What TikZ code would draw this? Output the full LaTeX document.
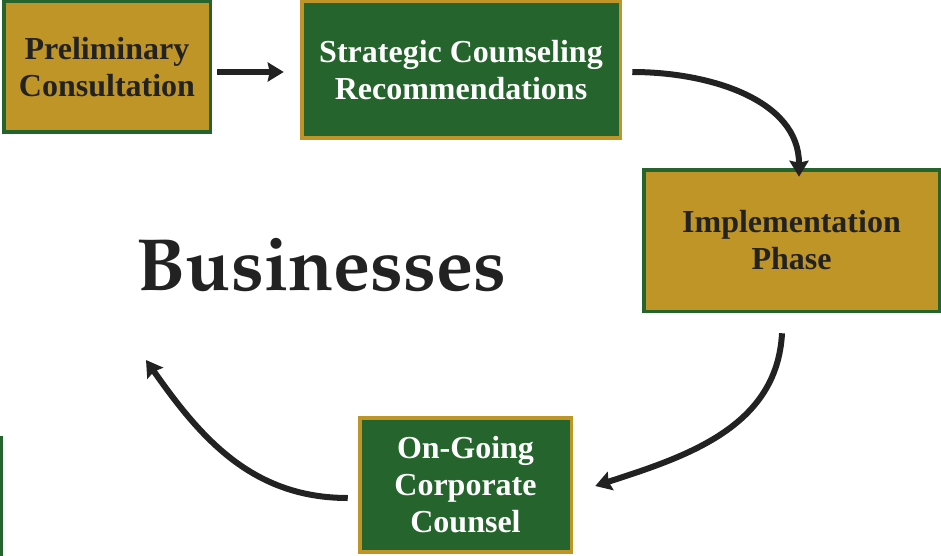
\documentclass[tikz,border=0pt]{standalone}
\usepackage[T1]{fontenc}
\usepackage{fontspec}
\newfontfamily\boxfont{Liberation Serif}
\usetikzlibrary{arrows.meta}
\definecolor{gold}{RGB}{190,149,38}
\definecolor{dgreen}{RGB}{38,100,45}
\definecolor{ink}{RGB}{34,34,34}
\tikzset{
  box/.style={rectangle, line width=3.5pt, inner sep=0pt, outer sep=0pt, align=center,
    font=\boxfont\bfseries\fontsize{32}{37}\selectfont},
  goldbox/.style={box, draw=dgreen, fill=gold, text=ink},
  greenbox/.style={box, draw=gold, fill=dgreen, text=white},
  conn/.style={draw=ink, line width=6pt, -{Stealth[length=16pt,width=19pt,inset=2pt]}}
}
\begin{document}
\begin{tikzpicture}[x=1pt,y=-1pt]
\useasboundingbox (0,0) rectangle (941,556);
\begin{scope}
\clip (0,0) rectangle (941,556);
\draw[line width=3.5pt, draw=dgreen, fill=dgreen] (-100,438) rectangle (1.5,640);
\node[goldbox, minimum width=206.5pt, minimum height=130.5pt] (b1) at (107,67) {Preliminary\\Consultation};
\node[greenbox, minimum width=318.5pt, minimum height=136.5pt] (b2) at (461,70) {Strategic Counseling\\Recommendations};
\node[goldbox, minimum width=295.5pt, minimum height=141.5pt] (b3) at (791.5,240.5) {Implementation\\Phase};
\node[greenbox, minimum width=211.5pt, minimum height=134pt] (b4) at (465.5,485) {On-Going\\Corporate\\Counsel};
\end{scope}
\node[anchor=base, text=ink, inner sep=0pt] (biz) at (321.5,290)
  {\fontencoding{T1}\fontfamily{ppl}\fontseries{b}\fontsize{74}{80}\selectfont Businesses};
\draw[conn] ([xshift=7pt,yshift=-5pt]b1.east) -- ([xshift=-18pt,yshift=-2pt]b2.west);
\draw[conn] ([xshift=12pt,yshift=-2pt]b2.east) to[out=0,in=90] ([xshift=7.5pt,yshift=-7pt]b3.north);
\draw[conn] ([xshift=-9.5pt,yshift=-22pt]b3.south) to[out=-93,in=18] ([xshift=24pt,yshift=-1pt]b4.east);
\draw[conn] ([xshift=-12pt,yshift=-13pt]b4.west) to[out=180,in=-55] (146,360);
\end{tikzpicture}
\end{document}
